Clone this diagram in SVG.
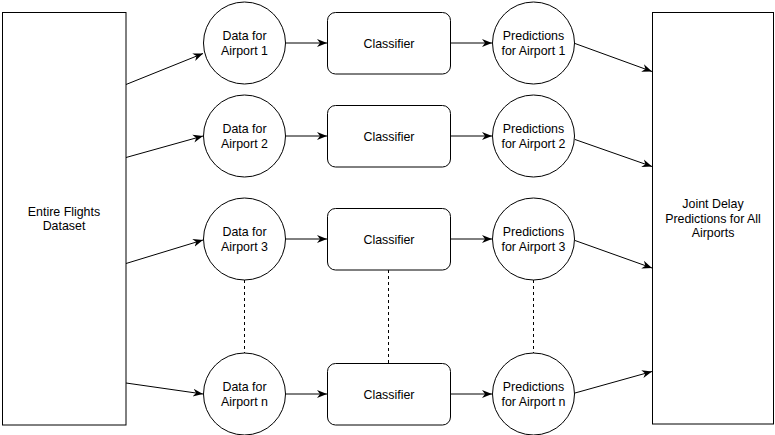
<svg xmlns="http://www.w3.org/2000/svg" width="775" height="435" viewBox="0 0 775 435">
<style>
.box{fill:#fff;stroke:#000;stroke-width:1}
.t{font-family:"Liberation Sans",Arial,sans-serif;font-size:12.4px;fill:#000;text-anchor:middle}
.c{fill:none;stroke:#000;stroke-width:1}
.d{fill:none;stroke:#000;stroke-width:1;stroke-dasharray:3 3}
</style>
<defs>
<marker id="a" markerUnits="userSpaceOnUse" markerWidth="10" markerHeight="10" viewBox="0 0 10 10" refX="10" refY="5" orient="auto">
<path d="M0,1 L10,5 L0,9 L3,5 Z" fill="#000"/>
</marker>
</defs>
<rect width="775" height="435" fill="#fff"/>
<g id="connectors">
<line class="c" x1="126" y1="84.5" x2="203" y2="53.5" marker-end="url(#a)"/>
<line class="c" x1="126" y1="157.5" x2="203" y2="136" marker-end="url(#a)"/>
<line class="c" x1="126" y1="263.5" x2="203" y2="240" marker-end="url(#a)"/>
<line class="c" x1="126" y1="383" x2="203" y2="394" marker-end="url(#a)"/>
<line class="c" x1="286" y1="43" x2="327" y2="43" marker-end="url(#a)"/>
<line class="c" x1="286" y1="136" x2="327" y2="136" marker-end="url(#a)"/>
<line class="c" x1="286" y1="239" x2="327" y2="239" marker-end="url(#a)"/>
<line class="c" x1="286" y1="394" x2="327" y2="394" marker-end="url(#a)"/>
<line class="c" x1="451" y1="43" x2="492" y2="43" marker-end="url(#a)"/>
<line class="c" x1="451" y1="136" x2="492" y2="136" marker-end="url(#a)"/>
<line class="c" x1="451" y1="239" x2="492" y2="239" marker-end="url(#a)"/>
<line class="c" x1="451" y1="394" x2="492" y2="394" marker-end="url(#a)"/>
<line class="c" x1="575" y1="43.5" x2="652" y2="71.5" marker-end="url(#a)"/>
<line class="c" x1="575" y1="139.5" x2="652" y2="166.5" marker-end="url(#a)"/>
<line class="c" x1="575" y1="240.5" x2="652" y2="268" marker-end="url(#a)"/>
<line class="c" x1="575" y1="393" x2="652" y2="371.5" marker-end="url(#a)"/>
<line class="d" x1="244.5" y1="280" x2="244.5" y2="353"/>
<line class="d" x1="388.5" y1="270" x2="388.5" y2="363"/>
<line class="d" x1="533.5" y1="280" x2="533.5" y2="353"/>
</g>
<g id="dataset">
<rect class="box" x="2.5" y="12.5" width="123.5" height="412.5"/>
<text class="t" x="64" y="216">Entire Flights</text>
<text class="t" x="64" y="230">Dataset</text>
</g>
<g id="joint">
<rect class="box" x="652.5" y="12.5" width="121" height="411.5"/>
<text class="t" x="713" y="208">Joint Delay</text>
<text class="t" x="713" y="223">Predictions for All</text>
<text class="t" x="713" y="237">Airports</text>
</g>
<g id="data1"><circle class="box" cx="244.5" cy="43" r="41"/><text class="t" x="244.5" y="40">Data for</text><text class="t" x="244.5" y="55">Airport 1</text></g>
<g id="data2"><circle class="box" cx="244.5" cy="136" r="41"/><text class="t" x="244.5" y="133">Data for</text><text class="t" x="244.5" y="148">Airport 2</text></g>
<g id="data3"><circle class="box" cx="244.5" cy="239" r="41"/><text class="t" x="244.5" y="236">Data for</text><text class="t" x="244.5" y="251">Airport 3</text></g>
<g id="datan"><circle class="box" cx="244.5" cy="394" r="41"/><text class="t" x="244.5" y="391">Data for</text><text class="t" x="244.5" y="406">Airport n</text></g>
<g id="clf1"><rect class="box" x="327.5" y="12.5" width="123" height="61.5" rx="8"/><text class="t" x="389" y="47.5">Classifier</text></g>
<g id="clf2"><rect class="box" x="327.5" y="105.5" width="123" height="61.5" rx="8"/><text class="t" x="389" y="140.5">Classifier</text></g>
<g id="clf3"><rect class="box" x="327.5" y="208.5" width="123" height="61.5" rx="8"/><text class="t" x="389" y="243.5">Classifier</text></g>
<g id="clfn"><rect class="box" x="327.5" y="363.5" width="123" height="61.5" rx="8"/><text class="t" x="389" y="398.5">Classifier</text></g>
<g id="pred1"><circle class="box" cx="533.5" cy="43" r="41"/><text class="t" x="533.5" y="40">Predictions</text><text class="t" x="533.5" y="55">for Airport 1</text></g>
<g id="pred2"><circle class="box" cx="533.5" cy="136" r="41"/><text class="t" x="533.5" y="133">Predictions</text><text class="t" x="533.5" y="148">for Airport 2</text></g>
<g id="pred3"><circle class="box" cx="533.5" cy="239" r="41"/><text class="t" x="533.5" y="236">Predictions</text><text class="t" x="533.5" y="251">for Airport 3</text></g>
<g id="predn"><circle class="box" cx="533.5" cy="394" r="41"/><text class="t" x="533.5" y="391">Predictions</text><text class="t" x="533.5" y="406">for Airport n</text></g>
</svg>
